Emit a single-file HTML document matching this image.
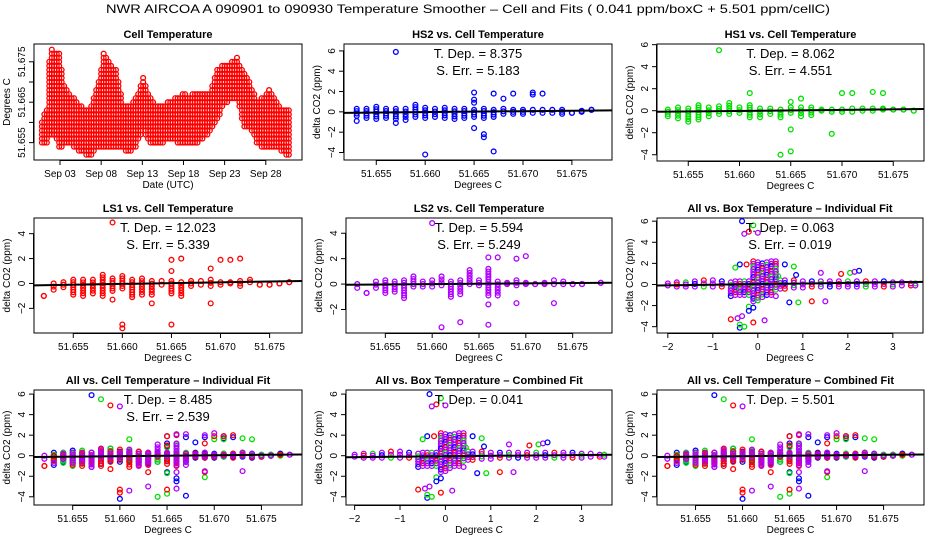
<!DOCTYPE html>
<html><head><meta charset="utf-8"><style>
html,body{margin:0;padding:0;background:#fff;}
svg{display:block;font-family:"Liberation Sans",sans-serif;}
</style></head><body>
<svg id="chart" width="936" height="540" viewBox="0 0 936 540">
<text x="468" y="13" text-anchor="middle" font-size="12" textLength="724" lengthAdjust="spacingAndGlyphs">NWR   AIRCOA A   090901 to 090930   Temperature Smoother – Cell and Fits ( 0.041  ppm/boxC +  5.501  ppm/cellC)</text>
</svg>
<script>
// ---------- DATA ----------
const tsDays=[0.8,1.4,1.8,2.4,3,3.4,4.2,5,5.8,6.6,7.5,8.3,9.1,9.9,10.7,11.5,12.3,13.1,13.9,14.7,15.5,16.4,17.2,18,18.8,19.6,20.4,21.2,22,22.8,23.6,24.5,25.3,26.1,26.9,27.7,28.5,29.3,30.1,31];
const tsLow=[51.6544,51.6548,51.6565,51.6565,51.6532,51.6540,51.6548,51.6532,51.6524,51.6515,51.6532,51.6536,51.6536,51.6532,51.6532,51.6524,51.6540,51.6581,51.6548,51.6540,51.6548,51.6557,51.6548,51.6548,51.6548,51.6548,51.6557,51.6573,51.6598,51.6639,51.6655,51.6655,51.6590,51.6581,51.6548,51.6532,51.6532,51.6540,51.6524,51.6515];
const tsHigh=[51.6606,51.6639,51.6787,51.6771,51.6771,51.6697,51.6672,51.6655,51.6639,51.6631,51.6688,51.6771,51.6746,51.6729,51.6647,51.6639,51.6664,51.6713,51.6664,51.6639,51.6647,51.6655,51.6664,51.6672,51.6664,51.6680,51.6672,51.6672,51.6729,51.6746,51.6746,51.6762,51.6729,51.6697,51.6655,51.6664,51.6688,51.6655,51.6631,51.6639];

const hs2X=[53,54,55,56,57,58,59,60,61,62,63,64,65,66,67,68,69,70,71,72,73,74,75,76,77];
const hs2Lo=[-0.4,-0.6,-0.7,-0.6,-0.7,-0.5,-0.5,-0.6,-0.5,-0.6,-0.7,-0.6,-0.5,-0.6,-0.5,-0.2,-0.2,-0.2,-0.1,-0.1,-0.1,-0.2,-0.1,0,0.2];
const hs2Hi=[0.3,0.3,0.5,0.3,0.3,0.3,0.7,0.4,0.3,0.4,0.3,0.3,0.2,0.3,0.2,0.3,0.2,0.2,0.2,0.2,0.2,0.2,-0.1,0.1,0.2];
const hs2OX=[53,57,57,58,60,65,65,65,65,66,66,67,67,68,69,71,71,72];
const hs2OY=[-0.9,-1.1,5.9,-0.8,-4.2,1.9,1.2,0.9,-1.6,-2.2,-2.5,1.8,-3.9,1.3,1.8,1.9,1.7,1.8];
const hs2Fit=[-0.1,0.15];
const hs1X=[53,54,55,56,57,58,59,60,61,62,63,64,65,66,67,68,69,70,71,72,73,74,75,76,77];
const hs1Lo=[-0.5,-0.7,-1,-0.8,-0.5,-0.3,-0.3,-0.2,-0.6,-0.6,-0.3,-0.6,-0.2,-0.5,-0.4,0,-0.1,-0.1,-0.1,0,0,0.1,0.1,0.1,0];
const hs1Hi=[0.1,0.3,0.2,0.5,0.3,0.4,0.7,0.3,0.5,0.2,0.2,0.1,0.3,0.3,0.3,0.1,0.1,0.1,0.2,0.2,0.2,0.2,0.1,0.1,0];
const hs1OX=[58,61,64,65,65,65,66,69,70,71,73,74];
const hs1OY=[5.5,1.6,-4,-3.7,-1.7,0.8,1.1,-2.1,1.6,1.6,1.7,1.6];
const hs1Fit=[-0.1,0.15];
const ls1X=[52,53,54,55,56,57,58,59,60,61,62,63,64,65,66,67,68,69,70,71,72,73,74,75,76,77];
const ls1Lo=[-1,-0.5,-0.3,-0.9,-1,-0.8,-1,-0.6,-0.4,-1.1,-0.9,-0.9,-0.1,-0.8,-1,-0.2,-0.1,-0.2,-0.1,0,-0.2,0.1,-0.1,-0.1,0,0.1];
const ls1Hi=[-1,0,0.1,0.3,0.3,0.3,0.7,0.4,0.6,0.3,0.4,0.2,0.2,0.2,0.1,0.2,0.2,0.3,0.1,0.1,0.2,0.3,-0.1,-0.1,0,0.1];
const ls1OX=[59,59,60,60,63,65,65,65,66,69,69,70,71,72];
const ls1OY=[4.9,-1.3,-3.3,-3.6,-1.6,1.9,1,-3.3,2,1.2,-1.6,1.9,1.9,2];
const ls1Fit=[-0.15,0.2];
const ls2X=[52,53,54,55,56,57,58,59,60,61,62,63,64,65,66,67,68,69,70,71,72,73,74,75,76,78];
const ls2Lo=[-0.3,-0.7,-0.3,-0.7,-0.6,-1.1,-0.2,-0.2,-0.2,-0.1,-1,-0.8,0,-0.1,-0.9,-0.9,0,-0.1,0,0,0,0,0,0,0,0.1];
const ls2Hi=[0,-0.7,0.2,0.3,0.2,0.3,0.6,0.2,0.3,0.6,0.2,0.3,1.1,0.3,1.2,0.2,0.1,0.3,0.1,0,0.1,0.3,0.2,0,0,0.1];
const ls2OX=[60,61,63,66,66,66,67,69,69,70,73];
const ls2OY=[4.8,-3.4,-3,2.1,-1.6,-3.2,2.1,2,-1.5,2.2,-1.5];
const ls2Fit=[-0.05,0.1];

const boxX=[-2,-1.8,-1.6,-1.4,-1.2,-1.0,-0.8,-0.6,-0.5,-0.4,-0.3,-0.2,-0.1,0,0.1,0.2,0.3,0.4,0.5,0.6,0.8,1.0,1.2,1.4,1.6,1.8,2.0,2.2,2.4,2.6,2.8,3.0,3.2,3.4,3.5];
const boxLo=[-0.1,-0.2,-0.2,-0.2,-0.2,-0.2,-0.2,-1.1,-1,-1,-1,-1,-1.6,-1.5,-1.2,-1,-1,-0.5,-0.4,-0.4,-0.3,-0.3,-0.2,-0.2,-0.2,-0.2,-0.2,-0.2,-0.2,-0.2,-0.2,-0.2,-0.1,-0.1,-0.1];
const boxHi=[0.1,0.2,0.2,0.3,0.4,0.4,0.3,0.2,0.3,0.3,0.3,0.3,2.2,2.1,2,2.1,2.2,2.2,0.4,0.4,0.4,0.3,0.3,0.3,0.3,0.3,0.3,0.3,0.3,0.3,0.3,0.2,0.2,0.1,0.1];
const boxOX=[-0.35,-0.1,-0.2,-0.3,0,-0.4,-0.25,-0.5,0.6,0.8,0.45,0.85,1.4,1.85,2.05,2.15,2.25,-0.6,-0.45,-0.35,-0.4,-0.4,-0.3,-0.1,0.15,-0.2,-0.1,-0.2,0.4,0.7,0.9,1.2,1.5];
const boxOY=[6,5.6,5,4.8,4.9,1.9,1.9,1.6,1.9,1.7,0.8,0.9,1.1,1,1.1,1.2,1.3,-3.3,-3.2,-3,-4.1,-3.8,-4,-3.6,-3.4,-2.1,-2.2,-2.5,-1.1,-1.7,-1.7,-1.6,-1.6];
const boxOC=[0,1,2,3,3,0,2,1,0,1,1,0,3,2,1,3,0,2,3,3,0,1,1,2,3,1,0,0,3,0,1,2,3];
const boxFitInd=[-0.1,0.25];
const boxFitComb=[-0.15,0.1];
const annot=[["8.375","5.183"],["8.062","4.551"],["12.023","5.339"],["5.594","5.249"],["0.063","0.019"],["8.485","2.539"],["0.041",null],["5.501",null]];

// ---------- DRAWING ----------
const NS="http://www.w3.org/2000/svg";
const svg=document.getElementById('chart');
const COLORS=["#0000ff","#00e000","#ff0000","#b000ff"];
function mk(tag,attrs,parent,txt){const e=document.createElementNS(NS,tag);for(const k in attrs)e.setAttribute(k,attrs[k]);if(txt!==undefined)e.textContent=txt;(parent||svg).appendChild(e);return e;}
function fmt(v,d){return v<0?"\u2212"+Math.abs(v).toFixed(d):v.toFixed(d);}

function panel(p){
  const g=mk('g',{});
  
  
  const sx=v=>p.x0+(v-p.xd[0])/(p.xd[1]-p.xd[0])*(p.x1-p.x0);
  const sy=v=>p.y1-(v-p.yd[0])/(p.yd[1]-p.yd[0])*(p.y1-p.y0);
  const t=mk('text',{x:(p.x0+p.x1)/2,y:p.y0-6,'text-anchor':'middle','font-size':11,'font-weight':'bold'},g,p.title);
  
  
  const fr=mk('rect',{x:p.x0,y:p.y0,width:p.x1-p.x0,height:p.y1-p.y0,fill:'none',stroke:'#000','stroke-width':1},g);
  
  
  const xa=mk('g',{},g);
  
  
  const xt=p.xticks;
  mk('line',{x1:sx(xt[0]),x2:sx(xt[xt.length-1]),y1:p.y1+0.5,y2:p.y1+0.5,stroke:'#000'},xa);
  xt.forEach((v,i)=>{mk('line',{x1:sx(v),x2:sx(v),y1:p.y1,y2:p.y1+5,stroke:'#000'},xa);
    const lb=p.xlabels[i]; if(lb!==null){const tx=mk('text',{x:sx(v),y:p.y1+17,'text-anchor':'middle','font-size':10},xa,lb);
    
    }});
  const xtl=mk('text',{x:(p.x0+p.x1)/2,y:p.y1+28,'text-anchor':'middle','font-size':10},g,p.xtitle);
  
  
  const ya=mk('g',{},g);
  
  
  const yt=p.yticks;
  mk('line',{x1:p.x0-0.5,x2:p.x0-0.5,y1:sy(yt[0]),y2:sy(yt[yt.length-1]),stroke:'#000'},ya);
  yt.forEach((v,i)=>{mk('line',{x1:p.x0-5,x2:p.x0,y1:sy(v),y2:sy(v),stroke:'#000'},ya);
    const lb=p.ylabels[i]; if(lb!==null){const tx=mk('text',{x:p.x0-9,y:sy(v),'text-anchor':'middle','font-size':10,transform:`rotate(-90 ${p.x0-9} ${sy(v)})`},ya,lb);
    
    }});
  const ytl=mk('text',{x:p.x0-24,y:(p.y0+p.y1)/2,'text-anchor':'middle','font-size':10,transform:`rotate(-90 ${p.x0-24} ${(p.y0+p.y1)/2})`},g,p.ytitle);
  
  
  const cid='c'+p.id;
  const cp=mk('clipPath',{id:cid},g); mk('rect',{x:p.x0,y:p.y0,width:p.x1-p.x0,height:p.y1-p.y0},cp);
  const pts=mk('g',{'clip-path':`url(#${cid})`},g);
  
  
  return {g,pts,sx,sy};
}
function dot(parent,x,y,col){
  const c=mk('circle',{cx:x,cy:y,r:2.4,fill:'none',stroke:col,'stroke-width':1.3},parent);
  
  
  return c;
}
function columns(P,xs,lo,hi,col,xfn,step){
  xs.forEach((xv,i)=>{const X=P.sx(xfn(xv));const ya=P.sy(hi[i]),yb=P.sy(lo[i]);
    const n=Math.max(1,Math.round((yb-ya)/step));
    for(let k=0;k<=n;k++){dot(P.pts,X,ya+(yb-ya)*k/n,typeof col==='function'?col(i,k):col);}});
}
function outl(P,ox,oy,col,xfn){ox.forEach((xv,i)=>dot(P.pts,P.sx(xfn(xv)),P.sy(oy[i]),typeof col==='function'?col(i):col));}
function fit(P,f){const l=mk('line',{x1:P.sx(P.p.xd[0]),x2:P.sx(P.p.xd[1]),y1:P.sy(f[0]),y2:P.sy(f[1]),stroke:'#000','stroke-width':2},P.pts);
  
  }
function ann(P,a){const p=P.p;const cx=(p.x0+p.x1)/2;
  const t1=mk('text',{x:cx,y:p.y0+14,'text-anchor':'middle','font-size':13},P.g,"T. Dep. =  "+a[0]);
  
  
  if(a[1]){const t2=mk('text',{x:cx,y:p.y0+31,'text-anchor':'middle','font-size':13},P.g,"S. Err. =  "+a[1]);
  
  }}

const cellTicks=[51.655,51.660,51.665,51.670,51.675];
const cellLabels=cellTicks.map(v=>v.toFixed(3));
const co2Ticks=[-4,-2,0,2,4,6];
const co2Labels=co2Ticks.map(v=>fmt(v,0));
const cx=v=>51.6+v/1000;
const boxTicks=[-2,-1,0,1,2,3];
const boxLabels=boxTicks.map(v=>fmt(v,0));
function filt(d){const yt=[],yl=[];co2Ticks.forEach((v,i)=>{if(v>=d[0]&&v<=d[1]){yt.push(v);yl.push(co2Labels[i]);}});return [yt,yl];}
function mkP(o){const [yt,yl]=filt(o.yd);o.yticks=o.yticks||yt;o.ylabels=o.ylabels||yl;const P=panel(o);P.p=o;return P;}

{const o={id:1,name:'cell-temperature-panel',title:'Cell Temperature',x0:34,x1:302,y0:44,y1:160,xd:[-0.16,32.4],yd:[51.6507,51.6794],
  xticks:[3,8,13,18,23,28],xlabels:['Sep 03','Sep 08','Sep 13','Sep 18','Sep 23','Sep 28'],xtitle:'Date (UTC)',
  yticks:[51.655,51.660,51.665,51.670,51.675],ylabels:['51.655',null,'51.665',null,'51.675'],ytitle:'Degrees C'};
 const P=panel(o);P.p=o;
 const dstep=0.3;
 for(let d=tsDays[0];d<=tsDays[tsDays.length-1];d+=dstep){
   let i=0;while(i<tsDays.length-2&&tsDays[i+1]<d)i++;
   const f=(d-tsDays[i])/(tsDays[i+1]-tsDays[i]);
   const lo=tsLow[i]+(tsLow[i+1]-tsLow[i])*f,hi=tsHigh[i]+(tsHigh[i+1]-tsHigh[i])*f;
   for(let v=Math.ceil(lo*1000)/1000;v<=hi+1e-9;v+=0.001){dot(P.pts,P.sx(d),P.sy(v),'#ff0000');}
 }
}
const series=[[hs2X,hs2Lo,hs2Hi,hs2OX,hs2OY,hs2Fit,0],[hs1X,hs1Lo,hs1Hi,hs1OX,hs1OY,hs1Fit,1],[ls1X,ls1Lo,ls1Hi,ls1OX,ls1OY,ls1Fit,2],[ls2X,ls2Lo,ls2Hi,ls2OX,ls2OY,ls2Fit,3]];
const cellPanels=[
 {id:2,name:'hs2-panel',title:'HS2 vs. Cell Temperature',x0:344,x1:612,y0:44,y1:160,xd:[51.6517,51.6791],yd:[-4.74,6.68],s:[0],a:0},
 {id:3,name:'hs1-panel',title:'HS1 vs. Cell Temperature',x0:657,x1:924,y0:44,y1:161,xd:[51.65195,51.6780],yd:[-4.57,6.06],s:[1],a:1},
 {id:4,name:'ls1-panel',title:'LS1 vs. Cell Temperature',x0:34,x1:302,y0:218,y1:333,xd:[51.651,51.6783],yd:[-3.98,5.26],s:[2],a:2},
 {id:5,name:'ls2-panel',title:'LS2 vs. Cell Temperature',x0:346,x1:612,y0:218,y1:333,xd:[51.6508,51.6792],yd:[-3.85,5.2],s:[3],a:3},
 {id:7,name:'all-cell-individual-panel',title:'All vs. Cell Temperature \u2013 Individual Fit',x0:34,x1:302,y0:390,y1:505,xd:[51.6509,51.6793],yd:[-4.8,6.4],s:[0,1,2,3],a:5,fit:[-0.12,0.12]},
 {id:9,name:'all-cell-combined-panel',title:'All vs. Cell Temperature \u2013 Combined Fit',x0:657,x1:924,y0:390,y1:505,xd:[51.6509,51.6793],yd:[-4.8,6.4],s:[0,1,2,3],a:7,fit:[-0.12,0.12]}
];
cellPanels.forEach(o=>{o.xticks=cellTicks;o.xlabels=cellLabels;o.xtitle='Degrees C';o.ytitle='delta CO2 (ppm)';
  const P=mkP(o);
  o.s.forEach(si=>{const s=series[si];columns(P,s[0],s[1],s[2],COLORS[s[6]],cx,2.6);outl(P,s[3],s[4],COLORS[s[6]],cx);});
  fit(P,o.fit||series[o.s[0]][5]);ann(P,annot[o.a]);});
const boxPattern=[3,3,0,3,2,3,1,3];
const boxPanels=[
 {id:6,name:'all-box-individual-panel',title:'All vs. Box Temperature \u2013 Individual Fit',x0:657,x1:923,y0:218,y1:333,xd:[-2.24,3.67],yd:[-4.6,6.3],a:4,f:boxFitInd},
 {id:8,name:'all-box-combined-panel',title:'All vs. Box Temperature \u2013 Combined Fit',x0:346,x1:612,y0:390,y1:505,xd:[-2.19,3.67],yd:[-4.8,6.4],a:6,f:boxFitComb}
];
boxPanels.forEach(o=>{o.xticks=boxTicks;o.xlabels=boxLabels;o.xtitle='Degrees C';o.ytitle='delta CO2 (ppm)';
  const P=mkP(o);
  columns(P,boxX,boxLo,boxHi,(i,k)=>COLORS[boxPattern[(i*3+k)%boxPattern.length]],v=>v,2.6);
  outl(P,boxOX,boxOY,i=>COLORS[boxOC[i]],v=>v);
  fit(P,o.f);ann(P,annot[o.a]);});
</script>
</body></html>
